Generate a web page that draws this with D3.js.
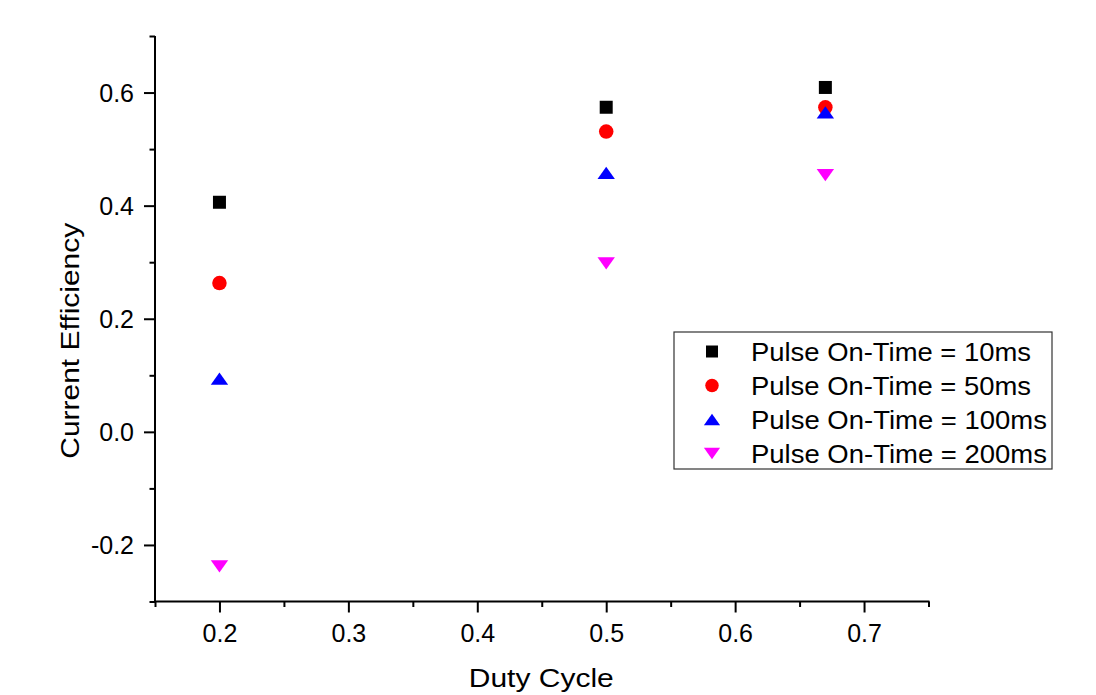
<!DOCTYPE html>
<html>
<head>
<meta charset="utf-8">
<script src="https://cdn.jsdelivr.net/npm/d3@7"></script>
<style>
  html, body { margin: 0; padding: 0; background: #fff; }
  svg { display: block; font-family: "Liberation Sans", Arial, sans-serif; }
</style>
</head>
<body>
<svg id="chart" width="1096" height="695"></svg>
<script>
// ---- data ----
const dutyCycle = [0.2, 0.5, 0.67];
const pulse10ms  = [0.406, 0.574, 0.609];
const pulse50ms  = [0.263, 0.531, 0.574];
const pulse100ms = [0.094, 0.458, 0.565];
const pulse200ms = [-0.238, 0.298, 0.454];
const seriesNames = ["Pulse On-Time = 10ms", "Pulse On-Time = 50ms", "Pulse On-Time = 100ms", "Pulse On-Time = 200ms"];
const xTicks = [0.2, 0.3, 0.4, 0.5, 0.6, 0.7];
const xMinorTicks = [0.15, 0.25, 0.35, 0.45, 0.55, 0.65, 0.75];
const yTicks = [-0.2, 0.0, 0.2, 0.4, 0.6];
const yMinorTicks = [-0.3, -0.1, 0.1, 0.3, 0.5, 0.7];
const xTitle = "Duty Cycle";
const yTitle = "Current Efficiency";

const series = [
  { name: seriesNames[0], values: pulse10ms,  color: "#000000", shape: "square" },
  { name: seriesNames[1], values: pulse50ms,  color: "#ff0000", shape: "circle" },
  { name: seriesNames[2], values: pulse100ms, color: "#0000ff", shape: "up" },
  { name: seriesNames[3], values: pulse200ms, color: "#ff00ff", shape: "down" }
];

const svg = d3.select("#chart");
const x = d3.scaleLinear().domain([0.15, 0.75]).range([155, 928.5]);
const y = d3.scaleLinear().domain([-0.3, 0.7]).range([601.5, 36]);
const fmt = v => d3.format(".1f")(v).replace("\u2212", "-");

// symbol path centered on bbox center
function symbolPath(shape, s) {
  const h = s / 2;
  if (shape === "square") return `M${-h},${-h}H${h}V${h}H${-h}Z`;
  if (shape === "circle") return d3.symbol(d3.symbolCircle, Math.PI * h * h)();
  const w = s * 0.6, th = s * 0.42;
  if (shape === "up") return `M0,${-th}L${w},${th}L${-w},${th}Z`;
  return `M0,${th}L${w},${-th}L${-w},${-th}Z`;
}
const markerSize = { square: 13, circle: 14.5, up: 14.5, down: 14.5 };

// ---- axes ----
const xAxis = svg.append("g").attr("transform", `translate(0,${y(-0.3)})`)
  .call(d3.axisBottom(x).tickValues(xTicks).tickFormat(fmt).tickSize(11).tickPadding(5));
const xMinor = svg.append("g").attr("transform", `translate(0,${y(-0.3)})`)
  .call(d3.axisBottom(x).tickValues(xMinorTicks).tickFormat("").tickSize(5.5));
const yAxis = svg.append("g").attr("transform", `translate(${x(0.15)},0)`)
  .call(d3.axisLeft(y).tickValues(yTicks).tickFormat(fmt).tickSize(11).tickPadding(10));
const yMinor = svg.append("g").attr("transform", `translate(${x(0.15)},0)`)
  .call(d3.axisLeft(y).tickValues(yMinorTicks).tickFormat("").tickSize(5.5));

[xAxis, xMinor, yAxis, yMinor].forEach(g => {
  g.select(".domain").attr("stroke", "#000").attr("stroke-width", 2).attr("d", null);
  g.selectAll(".tick line").attr("stroke", "#000").attr("stroke-width", 2);
  g.selectAll(".tick text").attr("fill", "#000").style("font-size", "25px")
    .style("font-family", '"Liberation Sans", Arial, sans-serif');
});
xMinor.select(".domain").remove();
yMinor.select(".domain").remove();
// axis lines
xAxis.select(".domain").attr("d", `M${x(0.15) - 1},0H${x(0.75) + 1}`);
yAxis.select(".domain").attr("d", `M0,${y(0.7)}V${y(-0.3) + 1}`);
xAxis.selectAll(".tick text").attr("dy", null).attr("y", 40);
yAxis.selectAll(".tick text").attr("dy", null).attr("y", 9);

// ---- titles ----
svg.append("text").attr("x", (x(0.15) + x(0.75)) / 2 - 0.5).attr("y", 687)
  .attr("text-anchor", "middle").style("font-size", "26px")
  .attr("textLength", 145).attr("lengthAdjust", "spacingAndGlyphs").text(xTitle);
svg.append("text").attr("transform", `translate(79,${(y(0.7) + y(-0.3)) / 2 + 22}) rotate(-90)`)
  .attr("text-anchor", "middle").style("font-size", "26px")
  .attr("textLength", 236).attr("lengthAdjust", "spacingAndGlyphs").text(yTitle);

// ---- points ----
series.forEach(s => {
  svg.append("g").selectAll("path").data(s.values).join("path")
    .attr("transform", (v, i) => `translate(${x(dutyCycle[i])},${y(v)})`)
    .attr("d", symbolPath(s.shape, markerSize[s.shape]))
    .attr("fill", s.color);
});

// ---- legend ----
const legend = svg.append("g").attr("transform", "translate(674,332)");
legend.append("rect").attr("x", 0).attr("y", 0).attr("width", 378).attr("height", 137)
  .attr("fill", "#fff").attr("stroke", "#333").attr("stroke-width", 1.2);
const rowY = d3.scalePoint().domain(seriesNames).range([19.5, 121.5]);
const textLengths = [280, 280, 296, 296];
series.forEach((s, i) => {
  const row = legend.append("g").attr("transform", `translate(0,${rowY(s.name)})`);
  row.append("path").attr("transform", "translate(38,0)")
    .attr("d", symbolPath(s.shape, markerSize[s.shape] - 1)).attr("fill", s.color);
  row.append("text").attr("x", 77).attr("y", 9).style("font-size", "25px")
    .attr("textLength", textLengths[i]).attr("lengthAdjust", "spacingAndGlyphs").text(s.name);
});
</script>
</body>
</html>
